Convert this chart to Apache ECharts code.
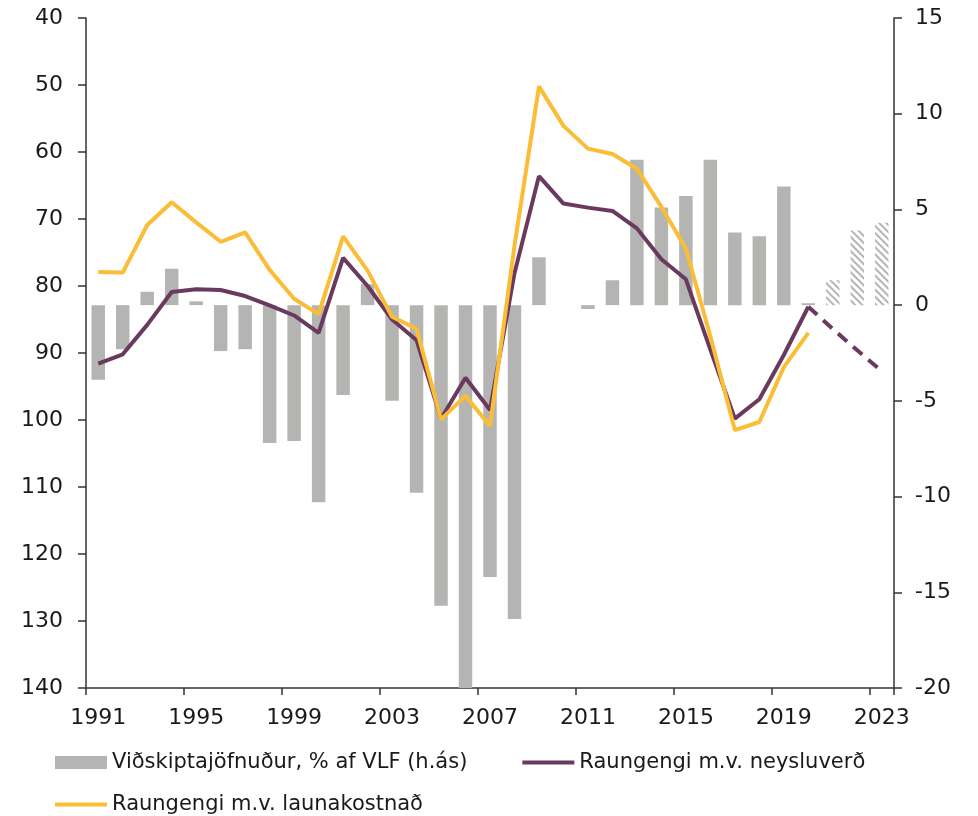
<!DOCTYPE html>
<html>
<head>
<meta charset="utf-8">
<script src="https://cdn.jsdelivr.net/npm/echarts@6/dist/echarts.min.js"></script>
<style>
    html, body { margin: 0; padding: 0; background: #fff; }
    #chart { width: 978px; height: 816px; }
</style>
</head>
<body>
<div id="chart"></div>
<script>
    // ár
    const years = [];
    for (let y = 1991; y <= 2023; y++) years.push(String(y));

    // Viðskiptajöfnuður, % af VLF (hægri ás)
    const balance = [-3.9, -2.3, 0.7, 1.9, 0.2, -2.4, -2.3, -7.2, -7.1, -10.3,
        -4.7, 1.1, -5.0, -9.8, -15.7, -20.0, -14.2, -16.4, 2.5, 0.0,
        -0.2, 1.3, 7.6, 5.1, 5.7, 7.6, 3.8, 3.6, 6.2, 0.1,
        1.3, 3.9, 4.3];
    // spáár (skyggð)
    const forecastYears = ['2021', '2022', '2023'];

    // Raungengi m.v. neysluverð
    const rerCpi = [91.6, 90.2, 85.8, 80.9, 80.5, 80.6, 81.5, 82.9, 84.4, 87.0,
        75.8, 80.0, 85.0, 88.1, 99.8, 93.7, 98.5, 78.1, 63.6, 67.7,
        68.3, 68.8, 71.4, 76.0, 79.0, 89.5, 99.8, 96.9, 90.3, 83.1,
        null, null, null];
    // spá, brotin lína
    const rerCpiForecast = [null, null, null, null, null, null, null, null, null, null,
        null, null, null, null, null, null, null, null, null, null,
        null, null, null, null, null, null, null, null, null, 83.1,
        86.4, 89.6, 92.7];

    // Raungengi m.v. launakostnað
    const rerUlc = [77.9, 78.0, 70.9, 67.5, 70.5, 73.4, 72.0, 77.6, 81.9, 84.2,
        72.6, 77.7, 84.6, 86.4, 99.9, 96.4, 100.9, 74.0, 50.2, 56.1,
        59.5, 60.3, 62.5, 68.2, 74.4, 87.5, 101.5, 100.3, 92.1, 87.0,
        null, null, null];

    const GREY = '#b4b5b2';
    const PURPLE = '#6a3a5e';
    const YELLOW = '#fbbd36';
    const FONT = 'DejaVu Sans';
    const LINE_ICON = 'path://M0,0 L52,0 L52,4 L0,4 Z';

    const barData = balance.map((v, i) => {
        if (forecastYears.indexOf(years[i]) < 0) return v;
        return {
            value: v,
            itemStyle: {
                color: '#fff',
                decal: {
                    symbol: 'rect',
                    symbolSize: 1,
                    color: GREY,
                    dashArrayX: [1, 0],
                    dashArrayY: [2, 3],
                    rotation: Math.PI / 4
                }
            }
        };
    });

    const chart = echarts.init(document.getElementById('chart'));
    const axisLine = {show: true, onZero: false, lineStyle: {color: '#333', width: 1.5}};
    const axisTick = {show: true, length: 8, lineStyle: {color: '#333', width: 1.5}};
    const labelStyle = {fontSize: 22, color: '#1a1a1a', fontFamily: FONT};
    const legendText = {fontFamily: FONT, fontSize: 21, color: '#1a1a1a'};

    chart.setOption({
        animation: false,
        grid: {left: 86, right: 84, top: 18, bottom: 128, containLabel: false},
        legend: [
            {
                left: 55, top: 752, padding: 0,
                itemWidth: 52, itemHeight: 13, itemGap: 55,
                textStyle: legendText,
                data: [
                    {name: 'Viðskiptajöfnuður, % af VLF (h.ás)', icon: 'rect'},
                    {name: 'Raungengi m.v. neysluverð', icon: LINE_ICON}
                ]
            },
            {
                left: 55, top: 794, padding: 0,
                itemWidth: 52, itemHeight: 13,
                textStyle: legendText,
                data: [{name: 'Raungengi m.v. launakostnað', icon: LINE_ICON}]
            }
        ],
        xAxis: {
            type: 'category',
            data: years,
            boundaryGap: true,
            axisLine: axisLine,
            axisTick: {show: true, length: 7, interval: 3, lineStyle: {color: '#333', width: 1.5}},
            axisLabel: Object.assign({interval: 3, margin: 19}, labelStyle),
            splitLine: {show: false}
        },
        yAxis: [
            {
                type: 'value',
                position: 'left',
                inverse: true,
                min: 40, max: 140, interval: 10,
                axisLine: axisLine,
                axisTick: axisTick,
                axisLabel: Object.assign({margin: 23}, labelStyle),
                splitLine: {show: false}
            },
            {
                type: 'value',
                position: 'right',
                min: -20, max: 15, interval: 5,
                axisLine: axisLine,
                axisTick: axisTick,
                axisLabel: Object.assign({margin: 21}, labelStyle),
                splitLine: {show: false}
            }
        ],
        series: [
            {
                name: 'Viðskiptajöfnuður, % af VLF (h.ás)',
                type: 'bar',
                yAxisIndex: 1,
                barWidth: '55%',
                itemStyle: {color: GREY},
                data: barData
            },
            {
                name: 'Raungengi m.v. neysluverð',
                type: 'line',
                yAxisIndex: 0,
                symbol: 'none',
                lineStyle: {color: PURPLE, width: 4},
                itemStyle: {color: PURPLE},
                data: rerCpi
            },
            {
                name: 'Raungengi m.v. neysluverð',
                type: 'line',
                yAxisIndex: 0,
                symbol: 'none',
                lineStyle: {color: PURPLE, width: 4, type: [12, 8]},
                itemStyle: {color: PURPLE},
                data: rerCpiForecast
            },
            {
                name: 'Raungengi m.v. launakostnað',
                type: 'line',
                yAxisIndex: 0,
                symbol: 'none',
                lineStyle: {color: YELLOW, width: 4},
                itemStyle: {color: YELLOW},
                data: rerUlc
            }
        ]
    });
</script>
</body>
</html>
